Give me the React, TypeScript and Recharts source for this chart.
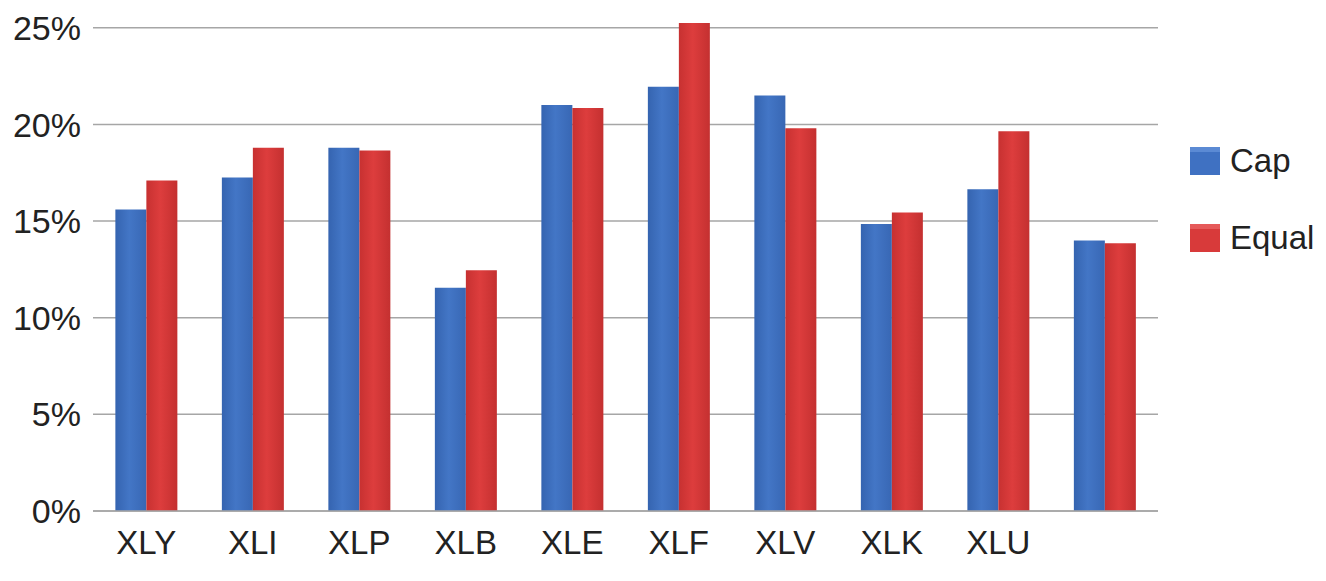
import React from "react";
import {
  BarChart,
  Bar,
  XAxis,
  YAxis,
  CartesianGrid,
} from "recharts";

const categories = ["XLY", "XLI", "XLP", "XLB", "XLE", "XLF", "XLV", "XLK", "XLU", ""];
const capValues = [15.6, 17.25, 18.8, 11.55, 21.0, 21.95, 21.5, 14.85, 16.65, 14.0];
const equalValues = [17.1, 18.8, 18.65, 12.45, 20.85, 25.25, 19.8, 15.45, 19.65, 13.85];
const yTicks = [0, 5, 10, 15, 20, 25];

const data = categories.map((name, i) => ({
  name,
  Cap: capValues[i],
  Equal: equalValues[i],
}));

const FONT = "'Liberation Sans', Arial, Helvetica, sans-serif";

function LegendBox() {
  const items = [
    { label: "Cap", main: "#3f71c2", top: "#5b8ad4" },
    { label: "Equal", main: "#d83a3a", top: "#e65a5a" },
  ];
  return (
    <div
      style={{
        position: "absolute",
        left: 1190,
        top: 146,
        fontFamily: FONT,
        fontSize: 33,
        color: "#222",
      }}
    >
      {items.map((it, i) => (
        <div
          key={it.label}
          style={{ display: "flex", alignItems: "center", height: 30, marginBottom: i === 0 ? 47 : 0 }}
        >
          <svg width={30} height={28} style={{ marginRight: 10 }}>
            <rect x={0} y={0} width={30} height={28} fill={it.main} />
            <rect x={0} y={0} width={30} height={5} fill={it.top} />
          </svg>
          <span>{it.label}</span>
        </div>
      ))}
    </div>
  );
}

export default function App() {
  return (
    <div style={{ position: "absolute", left: 0, top: 0, width: 1326, height: 581, background: "#fff" }}>
      <BarChart
        width={1326}
        height={581}
        data={data}
        margin={{ top: 22, right: 168, left: 0, bottom: 0 }}
        barCategoryGap="21%"
        barGap={0}
      >
        <defs>
          <linearGradient id="capGrad" x1="0" y1="0" x2="1" y2="0">
            <stop offset="0%" stopColor="#3564b0" />
            <stop offset="45%" stopColor="#4376c6" />
            <stop offset="100%" stopColor="#3867b4" />
          </linearGradient>
          <linearGradient id="eqGrad" x1="0" y1="0" x2="1" y2="0">
            <stop offset="0%" stopColor="#c73131" />
            <stop offset="45%" stopColor="#dd3d3d" />
            <stop offset="100%" stopColor="#c43030" />
          </linearGradient>
        </defs>
        <CartesianGrid
          vertical={false}
          horizontalValues={yTicks}
          stroke="#a6a6a6"
          strokeWidth={1.5}
        />
        <XAxis
          dataKey="name"
          height={70}
          axisLine={{ stroke: "#a6a6a6", strokeWidth: 1.5 }}
          tickLine={false}
          tickSize={0}
          tickMargin={20}
          tick={{ fill: "#222", fontSize: 33, fontFamily: FONT }}
          interval={0}
        />
        <YAxis
          width={93}
          domain={[0, 25.3]}
          ticks={yTicks}
          allowDataOverflow
          tickFormatter={(v: number) => `${v}%`}
          axisLine={false}
          tickLine={false}
          tickSize={0}
          tickMargin={12}
          tick={{ fill: "#222", fontSize: 34, fontFamily: FONT }}
        />
        <Bar dataKey="Cap" fill="url(#capGrad)" isAnimationActive={false} />
        <Bar dataKey="Equal" fill="url(#eqGrad)" isAnimationActive={false} />
      </BarChart>
      <LegendBox />
    </div>
  );
}
